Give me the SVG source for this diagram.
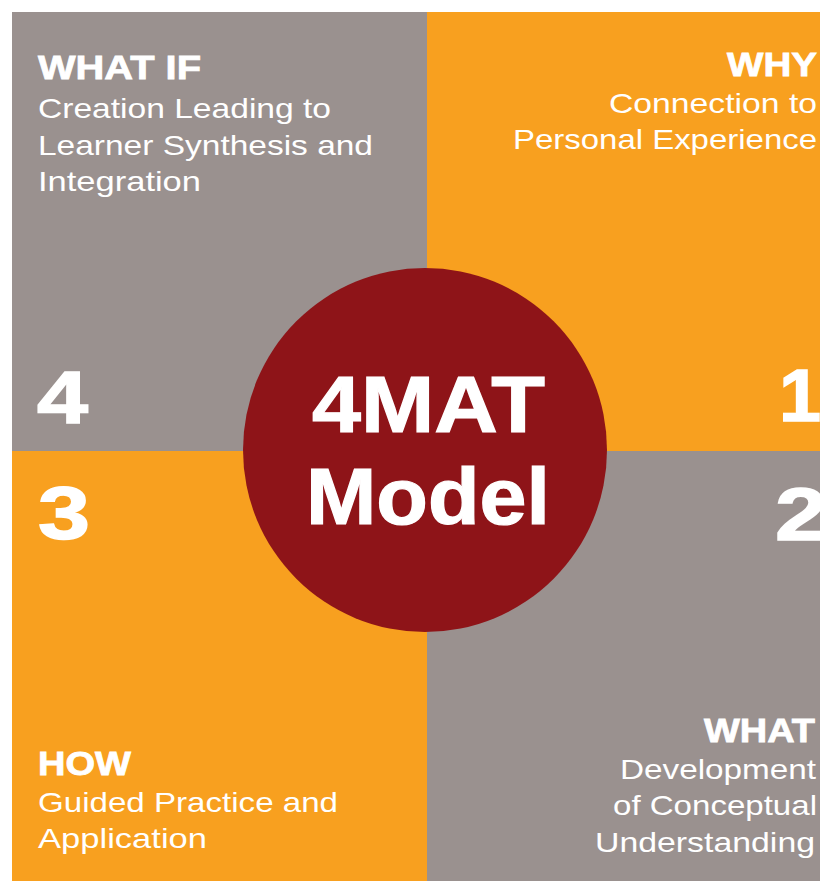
<svg xmlns="http://www.w3.org/2000/svg" width="820" height="881" viewBox="0 0 820 881">
<style>
.gray{fill:#9A918F}
.orange{fill:#F8A01F}
.head{font-family:"Liberation Sans",Arial,sans-serif;font-weight:bold;font-size:34px;fill:#fff;stroke:#fff;stroke-width:0.8px}
.body{font-family:"Liberation Sans",Arial,sans-serif;font-size:28px;fill:#fff}
.num{font-family:"Liberation Sans",Arial,sans-serif;font-weight:bold;font-size:75px;fill:#fff;stroke:#fff;stroke-width:1.5px}
.title{font-family:"Liberation Sans",Arial,sans-serif;font-weight:bold;font-size:79px;fill:#fff;stroke:#fff;stroke-width:1.2px}
</style>
<rect x="0" y="0" width="820" height="881" fill="#fff"/>
<g id="q4-what-if">
<rect class="gray" x="12" y="12" width="415" height="439"/>
<text class="head" x="38" y="79" textLength="163" lengthAdjust="spacingAndGlyphs">WHAT IF</text>
<text class="body" x="38" y="118" textLength="293" lengthAdjust="spacingAndGlyphs">Creation Leading to</text>
<text class="body" x="38" y="155" textLength="335" lengthAdjust="spacingAndGlyphs">Learner Synthesis and</text>
<text class="body" x="38" y="191" textLength="163" lengthAdjust="spacingAndGlyphs">Integration</text>
<text class="num" x="37" y="423" textLength="51" lengthAdjust="spacingAndGlyphs">4</text>
</g>
<g id="q1-why">
<rect class="orange" x="427" y="12" width="393" height="439"/>
<text class="head" x="727" y="76" textLength="90" lengthAdjust="spacingAndGlyphs">WHY</text>
<text class="body" x="609" y="113" textLength="208" lengthAdjust="spacingAndGlyphs">Connection to</text>
<text class="body" x="513" y="149" textLength="304" lengthAdjust="spacingAndGlyphs">Personal Experience</text>
<text class="num" x="779" y="421" textLength="42" lengthAdjust="spacingAndGlyphs">1</text>
</g>
<g id="q3-how">
<rect class="orange" x="12" y="451" width="415" height="430"/>
<text class="head" x="38" y="775" textLength="93" lengthAdjust="spacingAndGlyphs">HOW</text>
<text class="body" x="38" y="812" textLength="300" lengthAdjust="spacingAndGlyphs">Guided Practice and</text>
<text class="body" x="38" y="848" textLength="169" lengthAdjust="spacingAndGlyphs">Application</text>
<text class="num" x="38" y="539" textLength="52" lengthAdjust="spacingAndGlyphs">3</text>
</g>
<g id="q2-what">
<rect class="gray" x="427" y="451" width="393" height="430"/>
<text class="head" x="704" y="742" textLength="111" lengthAdjust="spacingAndGlyphs">WHAT</text>
<text class="body" x="620" y="779" textLength="196" lengthAdjust="spacingAndGlyphs">Development</text>
<text class="body" x="613" y="815" textLength="204" lengthAdjust="spacingAndGlyphs">of Conceptual</text>
<text class="body" x="595" y="852" textLength="220" lengthAdjust="spacingAndGlyphs">Understanding</text>
<text class="num" x="775" y="540" textLength="52" lengthAdjust="spacingAndGlyphs">2</text>
</g>
<g id="center-4mat-model">
<circle cx="425" cy="450" r="182" fill="#8E1418"/>
<text class="title" x="312" y="432" textLength="233" lengthAdjust="spacingAndGlyphs">4MAT</text>
<text class="title" x="306" y="524" textLength="244" lengthAdjust="spacingAndGlyphs">Model</text>
</g>
<g id="connectors"/>
</svg>
